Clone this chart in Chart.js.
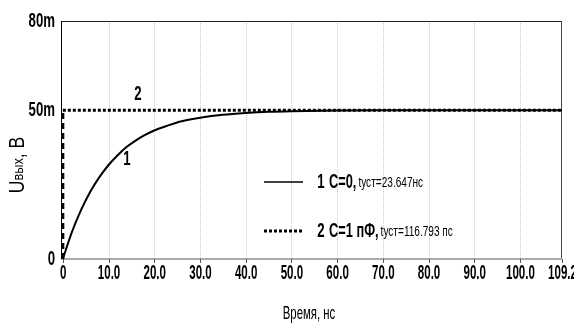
<!DOCTYPE html>
<html>
<head>
<meta charset="utf-8">
<script src="https://cdn.jsdelivr.net/npm/chart.js@4.4.0/dist/chart.umd.min.js"></script>
<style>
html,body{margin:0;padding:0;background:#fff;}
#wrap{width:574px;height:333px;position:relative;}
</style>
</head>
<body>
<div id="wrap"><canvas id="c" width="574" height="333"></canvas></div>
<script>
// Data
const time1 = [0, 2, 4, 6, 8, 10, 12, 14, 16, 18, 20, 22.5, 25, 27.5, 30, 35, 40, 45, 50, 60, 70, 80, 90, 100, 109.2];
const volt1 = [0, 9.1, 16.5, 22.6, 27.5, 31.6, 34.9, 37.7, 39.9, 41.7, 43.2, 44.6, 45.9, 46.8, 47.5, 48.5, 49.1, 49.5, 49.7, 49.9, 50, 50, 50, 50, 50];
const time2 = [0, 0, 109.2];
const volt2 = [0, 50, 50];
const xTicks = [0, 10, 20, 30, 40, 50, 60, 70, 80, 90, 100, 109.2];
const xTickLabels = ['0', '10.0', '20.0', '30.0', '40.0', '50.0', '60.0', '70.0', '80.0', '90.0', '100.0', '109.2'];
const yTicks = [0, 50, 80];
const yTickLabels = ['0', '50m', '80m'];
const legendLabels = [
  {num: '1', main: 'C=0,', sub: 'tуст=23.647нс'},
  {num: '2', main: 'C=1 пФ,', sub: 'tуст=116.793 пс'}
];
const xTitle = 'Время, нс';

const FONT = "'Liberation Sans', Arial, sans-serif";

function txt(ctx, s, x, y, size, sx, align, base, weight) {
  ctx.save();
  ctx.font = (weight || 'normal') + ' ' + size + 'px ' + FONT;
  ctx.textAlign = align || 'left';
  ctx.textBaseline = base || 'middle';
  ctx.translate(x, y);
  ctx.scale(sx, 1);
  ctx.fillText(s, 0, 0);
  ctx.restore();
}
function txtWidth(ctx, s, size, sx, weight) {
  ctx.save();
  ctx.font = (weight || 'normal') + ' ' + size + 'px ' + FONT;
  const w = ctx.measureText(s).width * sx;
  ctx.restore();
  return w;
}

const decor = {
  id: 'decor',
  beforeDatasetsDraw(chart) {
    const {ctx, chartArea: a, scales: {x, y}} = chart;
    ctx.save();
    ctx.strokeStyle = '#c8c8c8';
    ctx.lineWidth = 1;
    ctx.setLineDash([1, 1]);
    xTicks.forEach(v => {
      if (v === 0 || v === xTicks[xTicks.length - 1]) return;
      const px = Math.round(x.getPixelForValue(v)) + 0.5;
      ctx.beginPath(); ctx.moveTo(px, a.top); ctx.lineTo(px, a.bottom); ctx.stroke();
    });
    ctx.setLineDash([]);
    ctx.strokeStyle = '#222';
    ctx.beginPath(); ctx.moveTo(a.left, a.top + 0.5); ctx.lineTo(a.right, a.top + 0.5); ctx.stroke();
    ctx.strokeStyle = '#444';
    ctx.beginPath(); ctx.moveTo(a.right - 0.5, a.top); ctx.lineTo(a.right - 0.5, a.bottom); ctx.stroke();
    ctx.strokeStyle = '#aaa';
    ctx.lineWidth = 2;
    ctx.beginPath(); ctx.moveTo(a.left, a.bottom); ctx.lineTo(a.right, a.bottom); ctx.stroke();
    ctx.strokeStyle = '#000';
    ctx.lineWidth = 1;
    ctx.beginPath(); ctx.moveTo(a.left + 0.5, a.top); ctx.lineTo(a.left + 0.5, a.bottom); ctx.stroke();
    ctx.strokeStyle = '#555';
    xTicks.forEach(v => {
      const px = Math.round(x.getPixelForValue(v)) + 0.5;
      ctx.beginPath(); ctx.moveTo(px, a.bottom); ctx.lineTo(px, a.bottom + 4); ctx.stroke();
    });
    ctx.restore();
  },
  afterDraw(chart) {
    const {ctx, chartArea: a, scales: {x, y}} = chart;
    ctx.save();
    ctx.fillStyle = '#000';
    xTicks.forEach((v, i) => {
      txt(ctx, xTickLabels[i], x.getPixelForValue(v) + 0.5, a.bottom + 14, 21, 0.55, 'center', 'middle', 'bold');
    });
    yTicks.forEach((v, i) => {
      txt(ctx, yTickLabels[i], a.left - 6, y.getPixelForValue(v), 20, 0.66, 'right', 'middle', 'bold');
    });
    txt(ctx, xTitle, 309, 314, 19, 0.6, 'center');
    ctx.save();
    ctx.translate(18, 165);
    ctx.rotate(-Math.PI / 2);
    const parts = [['U', 22, 0.8], ['вых', 15, 0.85], [', В', 22, 0.8]];
    let total = parts.reduce((s, p) => s + txtWidth(ctx, p[0], p[1], p[2]), 0);
    let cx = -total / 2;
    parts.forEach(p => {
      txt(ctx, p[0], cx, p[1] < 18 ? 1 : 0, p[1], p[2], 'left', 'middle');
      cx += txtWidth(ctx, p[0], p[1], p[2]);
    });
    ctx.restore();
    txt(ctx, '1', x.getPixelForValue(14), y.getPixelForValue(33.3), 20, 0.66, 'center', 'middle', 'bold');
    txt(ctx, '2', x.getPixelForValue(16.4), y.getPixelForValue(55.2), 20, 0.66, 'center', 'middle', 'bold');
    const rows = [182, 231];
    ctx.strokeStyle = '#000';
    ctx.lineWidth = 1.5;
    ctx.beginPath(); ctx.moveTo(264, rows[0]); ctx.lineTo(303, rows[0]); ctx.stroke();
    ctx.lineWidth = 3;
    ctx.setLineDash([3, 2]);
    ctx.beginPath(); ctx.moveTo(264, rows[1]); ctx.lineTo(302, rows[1]); ctx.stroke();
    ctx.setLineDash([]);
    legendLabels.forEach((l, i) => {
      const yy = rows[i];
      txt(ctx, l.num, 321, yy, 20, 0.66, 'center', 'middle', 'bold');
      let xx = 329;
      txt(ctx, l.main, xx, yy, 20, 0.64, 'left', 'middle', 'bold');
      xx += txtWidth(ctx, l.main, 20, 0.64, 'bold') + 2;
      txt(ctx, l.sub, xx, yy + 1, 14, 0.72, 'left');
    });
    ctx.restore();
  }
};

new Chart(document.getElementById('c'), {
  type: 'scatter',
  data: {
    datasets: [
      {
        label: '1',
        data: time1.map((t, i) => ({x: t, y: volt1[i]})),
        showLine: true,
        borderColor: '#000',
        borderWidth: 2,
        pointRadius: 0,
        cubicInterpolationMode: 'monotone'
      },
      {
        label: '2',
        data: time2.map((t, i) => ({x: t, y: volt2[i]})),
        showLine: true,
        borderColor: '#000',
        borderWidth: 3,
        pointRadius: 0,
        borderCapStyle: 'butt',
        segment: {
          borderDash: ctx => ctx.p0DataIndex === 0 ? [6, 4] : [3, 2]
        }
      }
    ]
  },
  options: {
    responsive: false,
    animation: false,
    layout: {padding: {top: 21, right: 12, left: 0, bottom: 0}},
    plugins: {legend: {display: false}, tooltip: {enabled: false}},
    scales: {
      x: {
        type: 'linear',
        min: -0.4,
        max: 109.2,
        offset: false,
        grid: {display: false, drawTicks: false},
        border: {display: false},
        ticks: {display: false},
        afterBuildTicks: s => { s.ticks = xTicks.map(v => ({value: v})); },
        afterFit: s => { s.height = 74; s.paddingLeft = 0; s.paddingRight = 0; }
      },
      y: {
        type: 'linear',
        min: 0,
        max: 80,
        grid: {display: false, drawTicks: false},
        border: {display: false},
        ticks: {display: false},
        afterBuildTicks: s => { s.ticks = yTicks.map(v => ({value: v})); },
        afterFit: s => { s.width = 61; s.paddingTop = 0; s.paddingBottom = 0; }
      }
    }
  },
  plugins: [decor]
});
</script>
</body>
</html>
